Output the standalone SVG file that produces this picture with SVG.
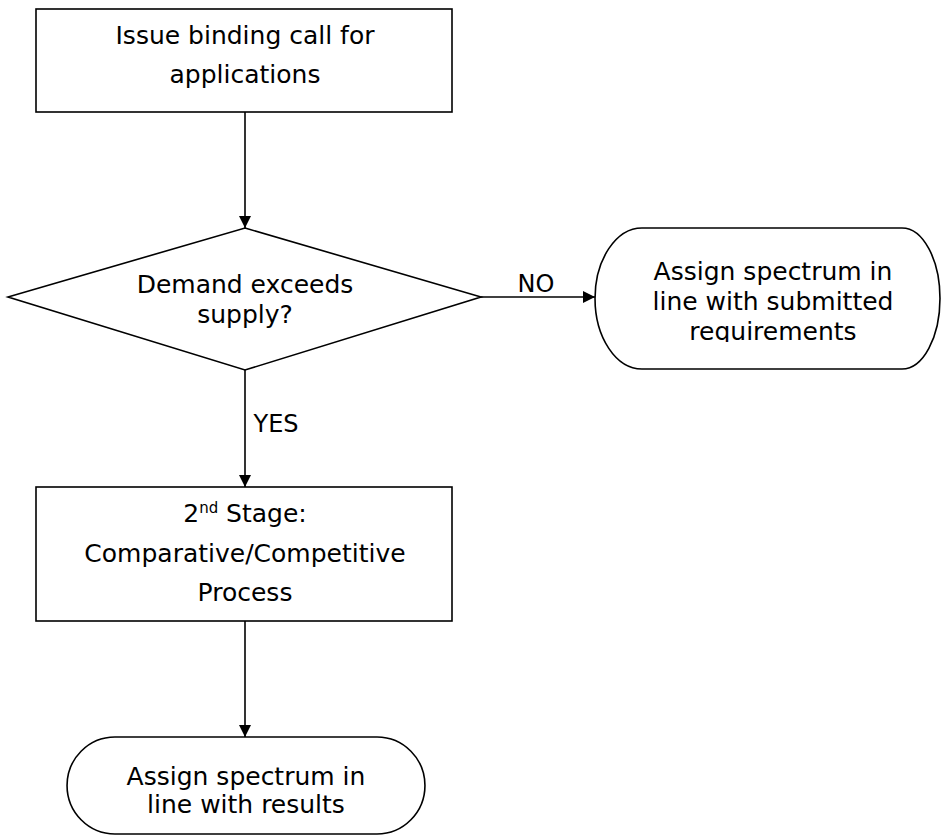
<svg xmlns="http://www.w3.org/2000/svg" width="942" height="836" viewBox="0 0 942 836">
<style>
.s{fill:#fff;stroke:#000;stroke-width:1.6}
.t{font-family:"DejaVu Sans",Verdana,sans-serif;font-size:25px;fill:#000;text-anchor:middle}
.l{font-family:"DejaVu Sans",Verdana,sans-serif;font-size:24px;fill:#000;text-anchor:middle}
.c{stroke:#000;stroke-width:1.6;fill:none;marker-end:url(#ah)}
</style>
<defs>
<marker id="ah" markerWidth="12" markerHeight="12" refX="12" refY="6" orient="auto" markerUnits="userSpaceOnUse">
<path d="M0,0 L12,6 L0,12 Z" fill="#000"/>
</marker>
<clipPath id="clipR"><rect x="595" y="228" width="346" height="114"/></clipPath>
</defs>
<rect width="942" height="836" fill="#fff"/>
<g id="connectors">
<line class="c" x1="245" y1="112" x2="245" y2="228"/>
<line class="c" x1="481" y1="297" x2="595" y2="297"/>
<line class="c" x1="245" y1="370" x2="245" y2="487"/>
<line class="c" x1="245" y1="621" x2="245" y2="737"/>
<text class="l" x="536" y="292">NO</text>
<text class="l" x="276" y="432">YES</text>
</g>
<g id="start">
<rect class="s" x="36" y="9" width="416" height="103"/>
<text class="t" x="245" y="44">Issue binding call for</text>
<text class="t" x="245" y="83">applications</text>
</g>
<g id="decision">
<polygon class="s" points="245,228 481,297 245,370 8,297"/>
<text class="t" x="245" y="293">Demand exceeds</text>
<text class="t" x="245" y="323">supply?</text>
</g>
<g id="assign-no">
<path class="s" d="M642,228 H902 A38,70.5 0 0 1 902,369 H642 A47,70.5 0 0 1 642,228 Z"/>
<g clip-path="url(#clipR)">
<text class="t" x="773" y="280">Assign spectrum in</text>
<text class="t" x="773" y="310">line with submitted</text>
<text class="t" x="773" y="340">requirements</text>
</g>
</g>
<g id="stage2">
<rect class="s" x="36" y="487" width="416" height="134"/>
<text class="t" x="245" y="522">2<tspan font-size="15" dy="-9">nd</tspan><tspan dy="9"> Stage:</tspan></text>
<text class="t" x="245" y="562">Comparative/Competitive</text>
<text class="t" x="245" y="601">Process</text>
</g>
<g id="assign-yes">
<path class="s" d="M115,737 H377 A48,48.5 0 0 1 377,834 H115 A48,48.5 0 0 1 115,737 Z"/>
<text class="t" x="246" y="785">Assign spectrum in</text>
<text class="t" x="246" y="813">line with results</text>
</g>
</svg>
